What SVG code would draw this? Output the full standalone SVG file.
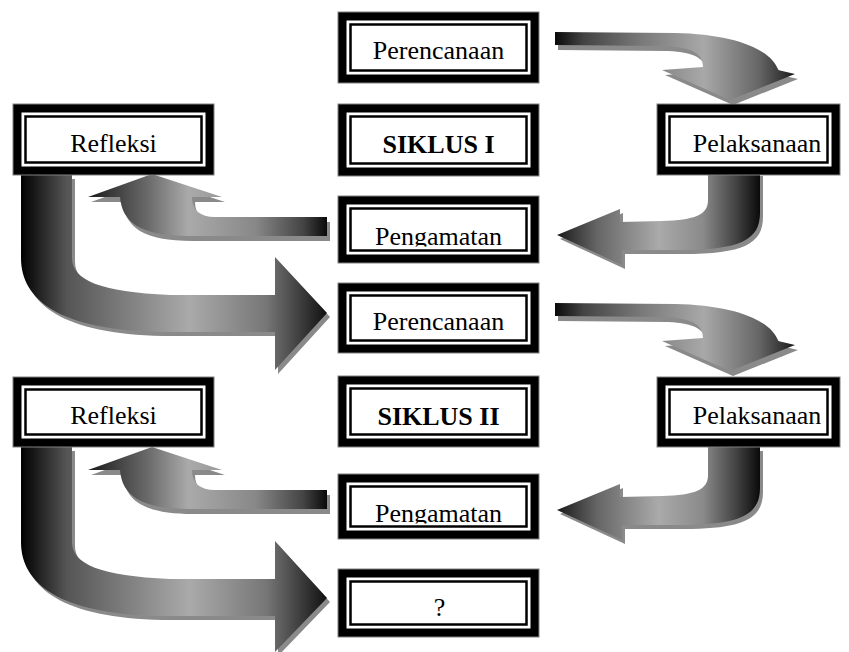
<svg xmlns="http://www.w3.org/2000/svg" xmlns:xlink="http://www.w3.org/1999/xlink" width="849" height="652" viewBox="0 0 849 652">
<style>
.outer{fill:#000;stroke:#808080;stroke-width:1}
.gap{fill:#fff}
.inner{fill:#fff;stroke:#000;stroke-width:2.5}
.lbl{font-size:26px;fill:#000;text-anchor:middle}
.bold{font-weight:bold}
.shadow{fill:#8a8a8a}
</style>
<defs>
<linearGradient id="g1" x1="0" y1="0" x2="1" y2="0">
<stop offset="0" stop-color="#0a0a0a"/><stop offset="0.12" stop-color="#444"/><stop offset="0.35" stop-color="#777"/><stop offset="0.62" stop-color="#a8a8a8"/><stop offset="0.85" stop-color="#666"/><stop offset="1" stop-color="#1a1a1a"/>
</linearGradient>
<linearGradient id="g2" x1="0" y1="0" x2="1" y2="0">
<stop offset="0" stop-color="#1a1a1a"/><stop offset="0.2" stop-color="#666"/><stop offset="0.5" stop-color="#aaa"/><stop offset="0.72" stop-color="#8a8a8a"/><stop offset="0.88" stop-color="#444"/><stop offset="1" stop-color="#0a0a0a"/>
</linearGradient>
<linearGradient id="g3" x1="0" y1="0" x2="1" y2="0">
<stop offset="0" stop-color="#1a1a1a"/><stop offset="0.25" stop-color="#6a6a6a"/><stop offset="0.42" stop-color="#aaa"/><stop offset="0.7" stop-color="#888"/><stop offset="0.9" stop-color="#444"/><stop offset="1" stop-color="#0a0a0a"/>
</linearGradient>
<linearGradient id="g4" x1="0" y1="0" x2="1" y2="0">
<stop offset="0" stop-color="#000"/><stop offset="0.15" stop-color="#555"/><stop offset="0.55" stop-color="#aaa"/><stop offset="0.8" stop-color="#777"/><stop offset="1" stop-color="#111"/>
</linearGradient>
<path id="a1" d="M555,32 L675,33 C735,34 772,50 778,70 L795,74 L730,100 L662,70 L703,67 C703,54 692,47 665,46 L555,45 Z"/>
<path id="a2" d="M708,172 L760,172 L760,213 C760,240 740,250 680,250 L622,250 L622,265 L557,235 L620,209 L620,222 L662,221 C695,220 708,215 708,200 Z"/>
<path id="a3" d="M327,217 L215,217 C200,217 192,210 192,197 L222,197 L152,174 L88,197 L120,197 C122,222 140,236 190,236 L327,236 Z"/>
<path id="a4" d="M21,175 L21,258 C21,300 60,330 160,332 L275,332 L275,370 L327,313 L275,257 L275,295 L170,295 C100,292 72,280 72,258 L72,175 Z"/>
<path id="a8" d="M21,447 L21,542 C21,584 60,614 160,616 L275,616 L275,652 L327,598 L275,541 L275,579 L170,579 C100,576 72,564 72,542 L72,447 Z"/>
<clipPath id="cg1"><rect x="338" y="196" width="201" height="50.5"/></clipPath>
<clipPath id="cg2"><rect x="338" y="474" width="201" height="49.5"/></clipPath>
</defs>
<g id="connectors">
<g id="arrow-perencanaan1-pelaksanaan1"><use xlink:href="#a1" class="shadow" transform="translate(3,5)"/><use xlink:href="#a1" fill="url(#g1)"/></g>
<g id="arrow-pelaksanaan1-pengamatan1"><use xlink:href="#a2" class="shadow" transform="translate(3,4)"/><use xlink:href="#a2" fill="url(#g2)"/></g>
<g id="arrow-pengamatan1-refleksi1"><use xlink:href="#a3" class="shadow" transform="translate(3,5)"/><use xlink:href="#a3" fill="url(#g3)"/></g>
<g id="arrow-refleksi1-perencanaan2"><use xlink:href="#a4" class="shadow" transform="translate(3,4)"/><use xlink:href="#a4" fill="url(#g4)"/></g>
<g id="arrow-perencanaan2-pelaksanaan2" transform="translate(0,271)"><use xlink:href="#a1" class="shadow" transform="translate(3,5)"/><use xlink:href="#a1" fill="url(#g1)"/></g>
<g id="arrow-pelaksanaan2-pengamatan2" transform="translate(0,275)"><use xlink:href="#a2" class="shadow" transform="translate(3,4)"/><use xlink:href="#a2" fill="url(#g2)"/></g>
<g id="arrow-pengamatan2-refleksi2" transform="translate(0,273)"><use xlink:href="#a3" class="shadow" transform="translate(3,5)"/><use xlink:href="#a3" fill="url(#g3)"/></g>
<g id="arrow-refleksi2-next"><use xlink:href="#a8" class="shadow" transform="translate(3,4)"/><use xlink:href="#a8" fill="url(#g4)"/></g>
</g>
<g font-family="'Liberation Serif', 'DejaVu Serif', serif">
<g id="perencanaan1"><rect class="outer" x="338" y="12" width="201" height="71"/><rect class="gap" x="346.5" y="20.5" width="184" height="54"/><rect class="inner" x="350.5" y="24.5" width="176" height="46"/><text class="lbl" x="438.5" y="59">Perencanaan</text></g>
<g id="siklus1"><rect class="outer" x="338" y="104" width="201" height="72"/><rect class="gap" x="346.5" y="112.5" width="184" height="55"/><rect class="inner" x="350.5" y="116.5" width="176" height="47"/><text class="lbl bold" x="438.5" y="153">SIKLUS I</text></g>
<g id="pengamatan1"><rect class="outer" x="338" y="196" width="201" height="67"/><rect class="gap" x="346.5" y="204.5" width="184" height="50"/><rect class="inner" x="350.5" y="208.5" width="176" height="42"/><text class="lbl" x="438.5" y="245" clip-path="url(#cg1)">Pengamatan</text></g>
<g id="refleksi1"><rect class="outer" x="13" y="104" width="201" height="71"/><rect class="gap" x="21.5" y="112.5" width="184" height="54"/><rect class="inner" x="25.5" y="116.5" width="176" height="46"/><text class="lbl" x="113.5" y="152">Refleksi</text></g>
<g id="pelaksanaan1"><rect class="outer" x="657" y="104" width="183" height="71"/><rect class="gap" x="665.5" y="112.5" width="166" height="54"/><rect class="inner" x="669.5" y="116.5" width="158" height="46"/><text class="lbl" x="757" y="152">Pelaksanaan</text></g>
<g id="perencanaan2"><rect class="outer" x="338" y="283" width="201" height="70"/><rect class="gap" x="346.5" y="291.5" width="184" height="53"/><rect class="inner" x="350.5" y="295.5" width="176" height="45"/><text class="lbl" x="438.5" y="330">Perencanaan</text></g>
<g id="siklus2"><rect class="outer" x="338" y="376" width="201" height="71"/><rect class="gap" x="346.5" y="384.5" width="184" height="54"/><rect class="inner" x="350.5" y="388.5" width="176" height="46"/><text class="lbl bold" x="438.5" y="425">SIKLUS II</text></g>
<g id="pengamatan2"><rect class="outer" x="338" y="474" width="201" height="65"/><rect class="gap" x="346.5" y="482.5" width="184" height="48"/><rect class="inner" x="350.5" y="486.5" width="176" height="40"/><text class="lbl" x="438.5" y="522" clip-path="url(#cg2)">Pengamatan</text></g>
<g id="refleksi2"><rect class="outer" x="13" y="377" width="201" height="70"/><rect class="gap" x="21.5" y="385.5" width="184" height="53"/><rect class="inner" x="25.5" y="389.5" width="176" height="45"/><text class="lbl" x="113.5" y="424">Refleksi</text></g>
<g id="pelaksanaan2"><rect class="outer" x="657" y="377" width="183" height="70"/><rect class="gap" x="665.5" y="385.5" width="166" height="53"/><rect class="inner" x="669.5" y="389.5" width="158" height="45"/><text class="lbl" x="757" y="424">Pelaksanaan</text></g>
<g id="tanya"><rect class="outer" x="338" y="569" width="201" height="68"/><rect class="gap" x="346.5" y="577.5" width="184" height="51"/><rect class="inner" x="350.5" y="581.5" width="176" height="43"/><text class="lbl" x="439.5" y="616">?</text></g>
</g>
</svg>
